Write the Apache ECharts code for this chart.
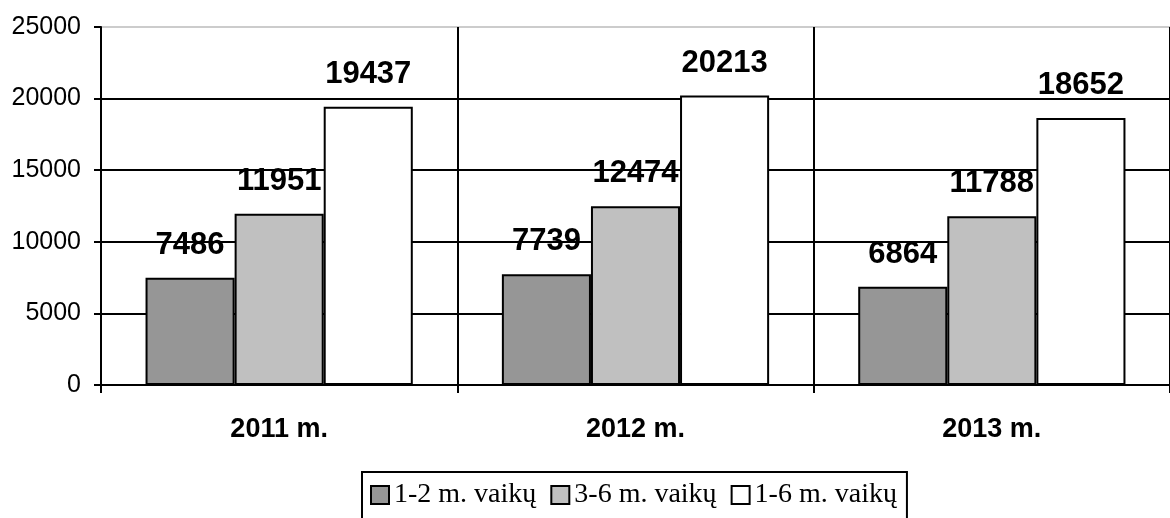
<!DOCTYPE html>
<html>
<head>
<meta charset="utf-8">
<script src="https://cdn.jsdelivr.net/npm/echarts@6/dist/echarts.min.js"></script>
<style>
  html, body { margin: 0; padding: 0; background: #fff; }
  #chart { width: 1170px; height: 518px; }
</style>
</head>
<body>
<div id="chart"></div>
<script>
// categories and series values
const years = ['2011 m.', '2012 m.', '2013 m.']
const age12 = [7486, 7739, 6864]
const age36 = [11951, 12474, 11788]
const age16 = [19437, 20213, 18652]
const seriesNames = ['1-2 m. vaikų', '3-6 m. vaikų', '1-6 m. vaikų']
const seriesColors = ['#969696', '#c0c0c0', '#ffffff']

const chart = echarts.init(document.getElementById('chart'))

const makeSeries = (name, data, color) => ({
  name: name,
  type: 'bar',
  data: data,
  barGap: 0,
  barCategoryGap: '25%',
  itemStyle: {
    color: color,
    borderColor: '#000',
    borderWidth: 2
  },
  label: {
    show: true,
    position: 'top',
    distance: 17,
    color: '#000',
    fontFamily: 'Liberation Sans, Arial, sans-serif',
    fontWeight: 'bold',
    fontSize: 31
  }
})

const option = {
  backgroundColor: '#fff',
  animation: false,
  grid: {
    left: 101,
    top: 27,
    width: 1075,
    height: 358
  },
  legend: {
    top: 472,
    left: 362,
    padding: [9, 10, 40, 8],
    itemGap: 14,
    itemWidth: 18,
    itemHeight: 18,
    borderColor: '#000',
    borderWidth: 2,
    backgroundColor: '#fff',
    textStyle: {
      fontFamily: 'Liberation Serif, Times New Roman, serif',
      fontSize: 28,
      color: '#000'
    },
    itemStyle: {
      borderColor: '#000',
      borderWidth: 2
    },
    data: seriesNames.map(n => ({ name: n, icon: 'rect' }))
  },
  xAxis: {
    type: 'category',
    data: years,
    axisLine: { lineStyle: { color: '#000', width: 2 } },
    axisTick: { show: true, length: 8, lineStyle: { color: '#000', width: 2 } },
    splitLine: { show: true, lineStyle: { color: '#000', width: 2 } },
    axisLabel: {
      margin: 31,
      color: '#000',
      fontFamily: 'Liberation Sans, Arial, sans-serif',
      fontWeight: 'bold',
      fontSize: 27
    }
  },
  yAxis: {
    type: 'value',
    min: 0,
    max: 25000,
    interval: 5000,
    axisLine: { show: true, lineStyle: { color: '#000', width: 2 } },
    axisTick: { show: true, length: 7, lineStyle: { color: '#000', width: 2 } },
    splitLine: {
      show: true,
      lineStyle: { color: ['#000', '#000', '#000', '#000', '#000', '#cccccc'], width: 2 }
    },
    axisLabel: {
      margin: 20,
      color: '#000',
      fontFamily: 'Liberation Sans, Arial, sans-serif',
      fontSize: 25,
      formatter: v => String(v)
    }
  },
  series: [
    makeSeries(seriesNames[0], age12, seriesColors[0]),
    makeSeries(seriesNames[1], age36, seriesColors[1]),
    makeSeries(seriesNames[2], age16, seriesColors[2])
  ]
}

chart.setOption(option)
</script>
</body>
</html>
